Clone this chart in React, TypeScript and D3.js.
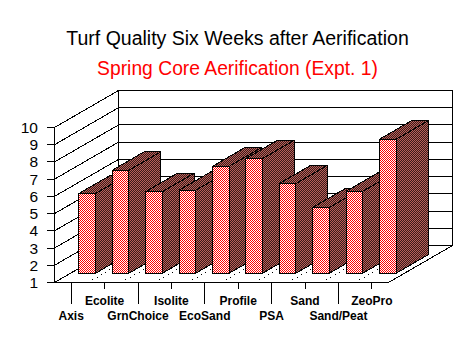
import React from "react";
import * as d3 from "d3";

const categories = ["Axis", "Ecolite", "GrnChoice", "Isolite", "EcoSand", "Profile", "PSA", "Sand", "Sand/Peat", "ZeoPro"];
const values = [5.63, 6.98, 5.74, 5.82, 7.21, 7.66, 6.21, 4.82, 5.76, 8.78];
const yTicks = [1, 2, 3, 4, 5, 6, 7, 8, 9, 10];

const W = 474, H = 355;
const x0 = 54.5, x1 = 388.5, yb = 282.5, yt = 127.5;
const dx = 64, dy = -37;

export default function App() {
  const x = d3.scaleBand<string>().domain(categories).range([x0, x1]);
  const y = d3.scaleLinear().domain([1, 10]).range([yb, yt]);
  const bw = x.bandwidth() / 2;
  const fx = dx / 4, fy = dy / 4;
  const sx = dx / 2, sy = dy / 2;
  const font = "'Liberation Sans', Arial, sans-serif";
  return (
    <svg width={W} height={H} shapeRendering="crispEdges" style={{ position: "fixed", left: 0, top: 0, background: "#fff" }}>
      <defs>
        <pattern id="front" width="2" height="2" patternUnits="userSpaceOnUse">
          <rect width="2" height="2" fill="#fff" />
          <rect width="1" height="1" fill="#ff0000" />
          <rect x="1" y="1" width="1" height="1" fill="#ff0000" />
        </pattern>
        <pattern id="side" width="2" height="2" patternUnits="userSpaceOnUse">
          <rect width="2" height="2" fill="#3a1a1a" />
          <rect width="1" height="1" fill="#b86058" />
          <rect x="1" y="1" width="1" height="1" fill="#b86058" />
        </pattern>
      </defs>
      <text x={237.5} y={45} textAnchor="middle" fontFamily={font} fontSize={19.5} fill="#000">Turf Quality Six Weeks after Aerification</text>
      <text x={237.5} y={75} textAnchor="middle" fontFamily={font} fontSize={19.3} fill="#ff0000">Spring Core Aerification (Expt. 1)</text>

      <rect x={x0 + dx} y={yt + dy} width={x1 - x0} height={yb - yt} fill="#fff" stroke="#000" />
      <polyline points={`${x0},${yb} ${x1},${yb} ${x1 + dx},${yb + dy}`} fill="none" stroke="#000" />
      {categories.slice(1).map((c) => (
        <line key={c} x1={x(c)!} y1={yb} x2={x(c)! + dx} y2={yb + dy} stroke="#000" strokeDasharray="1 4" />
      ))}
      {yTicks.map((t) => (
        <g key={t} stroke="#000" fill="none">
          <line x1={x0 - 8} x2={x0} y1={y(t)} y2={y(t)} />
          <line x1={x0} y1={y(t)} x2={x0 + dx} y2={y(t) + dy} />
          <line x1={x0 + dx} x2={x1 + dx} y1={y(t) + dy} y2={y(t) + dy} />
        </g>
      ))}
      <line x1={x0} x2={x0} y1={yt} y2={yb} stroke="#000" />
      {yTicks.map((t) => (
        <text key={t} x={38} y={y(t) + 5.5} textAnchor="end" fontFamily={font} fontSize={15.5} fill="#000">{t}</text>
      ))}
      {categories.map((c, i) => {
        const l = x(c)! + x.bandwidth() / 2 + fx - bw / 2;
        const r = l + bw;
        const b = yb + fy;
        const t = y(values[i]) + fy;
        return (
          <g key={c} stroke="#000" strokeLinejoin="round">
            <polygon points={`${l},${t} ${r},${t} ${r + sx},${t + sy} ${l + sx},${t + sy}`} fill="url(#side)" />
            <polygon points={`${r},${t} ${r + sx},${t + sy} ${r + sx},${b + sy} ${r},${b}`} fill="url(#side)" />
            <rect x={l} y={t} width={bw} height={b - t} fill="url(#front)" />
          </g>
        );
      })}
      {categories.map((c, i) => {
        const cx = x(c)! + x.bandwidth() / 2;
        const odd = i % 2 === 0;
        return (
          <g key={c}>
            <line x1={cx} x2={cx} y1={yb} y2={yb + (odd ? 21 : 6)} stroke="#000" />
            <text x={cx} y={odd ? 320 : 305} textAnchor="middle" fontFamily={font} fontSize={12} fontWeight="bold" fill="#000">{c}</text>
          </g>
        );
      })}
    </svg>
  );
}
